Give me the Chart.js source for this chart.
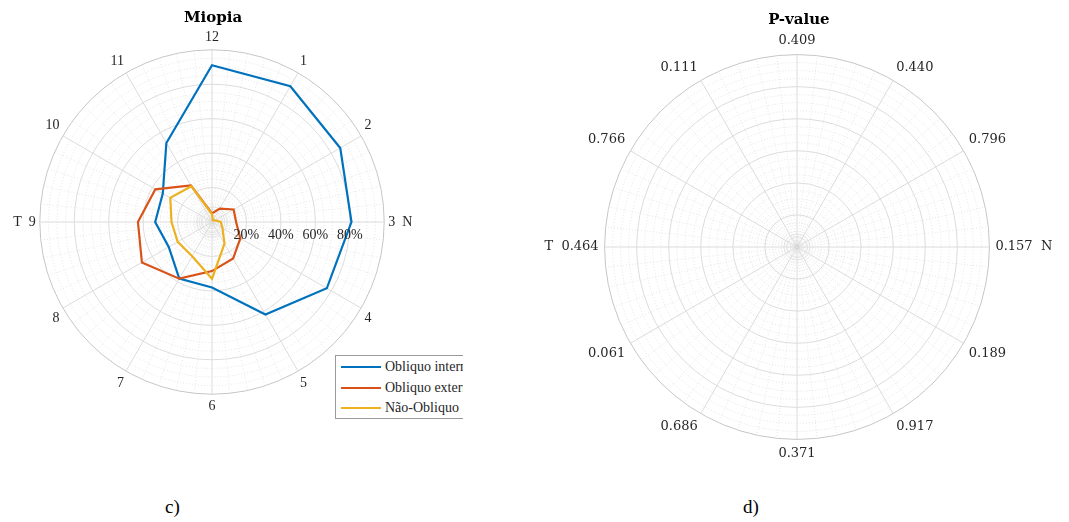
<html>
<head>
<meta charset="utf-8">
<script src="https://cdn.jsdelivr.net/npm/chart.js"></script>
<style>
body { margin: 0; width: 1069px; height: 522px; overflow: hidden; background: #fff; position: relative; }
canvas { position: absolute; }
#leg { position: absolute; left: 335px; top: 355px; width: 128px; height: 66px; overflow: hidden; }
#leg .box { width: 170px; height: 61px; border: 1px solid #9a9a9a; background: #fff; padding-top: 1px; }
#leg .row { height: 20.5px; display: flex; align-items: center; font: 14px "Liberation Serif"; color: #262626; white-space: nowrap; }
#leg .row span { display: inline-block; width: 40px; height: 2px; margin: 0 4px 0 5px; }
.sub { position: absolute; font: 19px "Liberation Serif"; color: #000; }
</style>
</head>
<body>
<canvas id="miopia" width="440" height="416" style="left:-7px; top:0px"></canvas>
<canvas id="pvalue" width="520" height="462" style="left:539px; top:0px"></canvas>
<div id="leg"><div class="box"></div></div>
<div class="sub" style="left:165px; top:496px">c)</div>
<div class="sub" style="left:743px; top:496px">d)</div>

<script>
// clock positions, 12 at the top, going clockwise
clockLabels = ['12', '1', '2', '3  N', '4', '5', '6', '7', '8', 'T  9', '10', '11']
pvalueLabels = ['0.409', '0.440', '0.796', '0.157  N', '0.189', '0.917', '0.371', '0.686', '0.061', 'T  0.464', '0.766', '0.111']

seriesNames = ['Obliquo interno', 'Obliquo externo', 'Não-Obliquo']
obliquoInterno = [91, 91, 86, 81, 77, 62, 38, 38, 29, 33, 33, 53]
obliquoExterno = [5, 9, 14.5, 14, 19, 24.5, 28.5, 38, 47, 43, 38, 24.5]
naoObliquo = [4.5, 1, 2, 5, 7, 14.5, 33, 23, 23, 23.5, 28, 24]

// radial tick values (percent)
miopiaTickLabels = [20, 40, 60, 80]
miopiaMajor = [20, 40, 60, 80, 100]
miopiaMinor = [5, 10, 15, 25, 30, 35, 45, 50, 55, 65, 70, 75, 85, 90, 95]
miopiaCenter = [1.25, 2.5, 3.75, 6.25, 7.5, 8.75]
miopiaDot = [0.8]

pvMajor = [1, 2, 3, 4, 5, 6]
pvMinor = [0.25, 0.5, 0.75, 1.25, 1.5, 1.75, 2.25, 2.5, 2.75, 3.25, 3.5, 3.75, 4.25, 4.5, 4.75, 5.25, 5.5, 5.75]
pvCenter = [0.08, 0.16, 0.33, 0.41]
pvDot = [0.05]

colors = ['#0072BD', '#D95319', '#EDB120']

// 4 minor spokes between every clock position
function spread(arr, fill) {
  return arr.flatMap(v => [v, fill, fill, fill, fill])
}

function ringStyle(major, minor, dot, max) {
  return {
    color: c => {
      v = c.tick.value
      if (v == max) return '#c6c6c6'
      if (major.includes(v)) return '#dcdcdc'
      if (minor.includes(v)) return '#e2e2e2'
      if (dot.includes(v)) return '#888'
      return '#e4e4e4'
    },
    dash: c => minor.includes(c.tick.value) ? [1, 2] : []
  }
}

function radialScale(max, major, minor, center, dot, font, pad) {
  rs = ringStyle(major, minor, dot, max)
  all = [0].concat(dot, center, minor, major).sort((a, b) => a - b)
  return {
    min: 0, max: max,
    afterBuildTicks: s => { s.ticks = all.map(v => ({ value: v })) },
    ticks: { display: false },
    grid: { circular: true, lineWidth: 1, color: rs.color },
    border: { dash: rs.dash },
    angleLines: {
      lineWidth: 1,
      color: c => c.index % 5 ? '#e6e6e6' : '#dcdcdc',
      borderDash: c => c.index % 5 ? [1, 2] : []
    },
    pointLabels: { font: font, color: '#262626', padding: pad }
  }
}

tickLabelPlugin = {
  id: 'tickLabels',
  afterDraw(chart) {
    s = chart.scales.r
    ctx = chart.ctx
    ctx.save()
    ctx.font = '14px "Liberation Serif"'
    ctx.fillStyle = '#262626'
    ctx.textAlign = 'center'
    ctx.textBaseline = 'middle'
    miopiaTickLabels.forEach(v => {
      d = s.getDistanceFromCenterForValue(v)
      ctx.fillText(v + '%', s.xCenter + d, s.yCenter + 13)
    })
    ctx.restore()
  }
}

titleFont = { family: 'DejaVu Serif', size: 15, weight: 'bold' }

series = [obliquoInterno, obliquoExterno, naoObliquo]
new Chart(document.getElementById('miopia'), {
  type: 'radar',
  data: {
    labels: spread(clockLabels, ''),
    datasets: series.map((s, i) => ({
      label: seriesNames[i],
      data: spread(s, null),
      borderColor: colors[i],
      backgroundColor: 'transparent',
      borderWidth: 2.2,
      fill: false,
      order: 3 - i
    }))
  },
  options: {
    responsive: false, animation: false, spanGaps: true,
    elements: { point: { radius: 0 }, line: { tension: 0 } },
    plugins: {
      legend: { display: false }, tooltip: { enabled: false },
      title: { display: true, text: 'Miopia', color: '#000', font: titleFont, padding: { top: 9, bottom: 3 } }
    },
    scales: { r: radialScale(100, miopiaMajor, miopiaMinor, miopiaCenter, miopiaDot, { family: 'Liberation Serif', size: 14 }, 4) }
  },
  plugins: [tickLabelPlugin]
})

new Chart(document.getElementById('pvalue'), {
  type: 'radar',
  data: { labels: spread(pvalueLabels, ''), datasets: [] },
  options: {
    responsive: false, animation: false,
    plugins: {
      legend: { display: false }, tooltip: { enabled: false },
      title: { display: true, text: 'P-value', color: '#000', font: titleFont, padding: { top: 11, bottom: 5 } }
    },
    scales: { r: radialScale(6, pvMajor, pvMinor, pvCenter, pvDot, { family: 'DejaVu Serif', size: 13 }, 6) }
  }
})

// legend box, cut at the right like the figure
box = document.querySelector('#leg .box')
seriesNames.forEach((n, i) => {
  box.innerHTML += '<div class="row"><span style="background:' + colors[i] + '"></span>' + n + '</div>'
})
</script>
</body>
</html>
